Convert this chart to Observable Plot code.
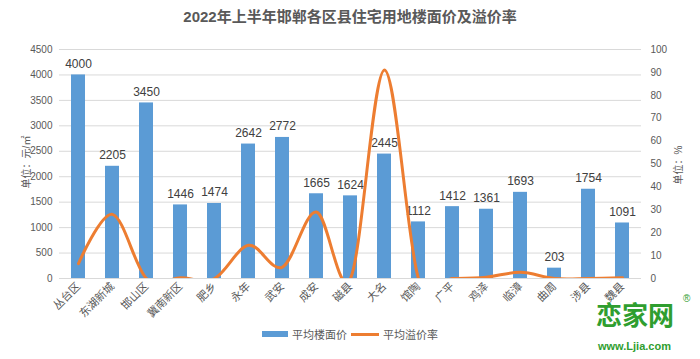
<!DOCTYPE html>
<html>
<head>
<meta charset="utf-8">
<script src="https://cdn.jsdelivr.net/npm/d3@7"></script>
<script src="https://cdn.jsdelivr.net/npm/@observablehq/plot@0.6"></script>
<style>
  html, body { margin: 0; padding: 0; background: #fff; }
  #wrap { position: relative; width: 700px; height: 359px; overflow: hidden;
          font-family: "Liberation Sans", "Noto Sans CJK SC", sans-serif; }
  #title { height: 35px; line-height: 34px; text-align: center; font-size: 15px; font-weight: bold;
           color: #595959; font-family: "Liberation Sans", "Noto Sans CJK SC", sans-serif; }
  .ytitle { position: absolute; font-size: 10px; color: #595959; white-space: nowrap;
            transform: translate(-50%, -50%) rotate(-90deg); }
  #legend { position: absolute; left: 0; width: 700px; top: 326px; display: flex; justify-content: center;
            align-items: center; font-size: 11px; color: #595959; }
  .sw { display: inline-block; margin-right: 4px; }
  .logo1 { position: absolute; left: 596px; top: 298px; color: #2f9e2f; font-size: 26px; font-weight: bold;
           line-height: 32px; font-family: "Noto Sans CJK SC", sans-serif; }
  .logo2 { position: absolute; left: 598px; top: 339px; color: #2f9e2f; font-size: 11px; font-weight: bold;
           line-height: 14px; font-family: "Liberation Sans", sans-serif; }
  .reg { position: absolute; left: 683px; top: 293px; color: #2f9e2f; font-size: 10px; line-height: 12px; }
</style>
</head>
<body>
<div id="wrap">
  <div id="title">2022年上半年邯郸各区县住宅用地楼面价及溢价率</div>
  <div id="chart"></div>
  <div class="ytitle" style="left:25px; top:162px;">单位：元/㎡</div>
  <div class="ytitle" style="left:677px; top:165px;">单位：%</div>
  <div id="legend">
    <span class="sw" style="width:26px;height:6px;background:#5b9bd5;"></span>
    <span style="margin-right:4px;">平均楼面价</span>
    <span class="sw" style="width:28px;height:3px;background:#ed7d31;"></span>
    <span>平均溢价率</span>
  </div>
  <div class="logo1">恋家网</div>
  <div class="reg">®</div>
  <div class="logo2">www.Ljia.com</div>
</div>
<script>
const categories = ["丛台区","东湖新城","邯山区","冀南新区","肥乡","永年","武安","成安","磁县","大名","馆陶","广平","鸡泽","临漳","曲周","涉县","魏县"];
const prices = [4000, 2205, 3450, 1446, 1474, 2642, 2772, 1665, 1624, 2445, 1112, 1412, 1361, 1693, 203, 1754, 1091];
const rates = [6.5, 28, 0, 0.3, 0, 14.5, 5, 29, 0, 91, 0, 0, 0.6, 2.7, 0, 0, 0.3];
const priceTicks = [0, 500, 1000, 1500, 2000, 2500, 3000, 3500, 4000, 4500];
const rateTicks = [0, 10, 20, 30, 40, 50, 60, 70, 80, 90, 100];
const priceMax = 4500, rateMax = 100;
const k = priceMax / rateMax;

const data = categories.map((c, i) => ({cat: c, price: prices[i], rate: rates[i]}));
const font = "'Liberation Sans', 'Noto Sans CJK SC', sans-serif";

const chart = Plot.plot({
  width: 700,
  height: 292,
  marginTop: 14,
  marginLeft: 59,
  marginRight: 59,
  marginBottom: 49,
  x: {domain: categories, paddingInner: 0.58, paddingOuter: 0.29, label: null},
  y: {domain: [0, priceMax], label: null},
  style: {fontFamily: font, fontSize: "10px", color: "#595959", background: "transparent"},
  marks: [
    Plot.ruleY(priceTicks, {stroke: "#d9d9d9", strokeWidth: 1}),
    Plot.barY(data, {x: "cat", y: "price", fill: "#5b9bd5"}),
    Plot.text(data, {x: "cat", y: "price", text: d => String(d.price), dy: -7, lineAnchor: "bottom",
                     fill: "#404040", fontSize: 12}),
    Plot.line(data, {x: "cat", y: d => d.rate * k, stroke: "#ed7d31", strokeWidth: 3,
                     curve: "cardinal", tension: 0, clip: true}),
    Plot.axisY(priceTicks, {anchor: "left", tickSize: 0, tickPadding: 7, label: null, fill: "#595959",
                     fontSize: 10, tickFormat: d => String(d)}),
    Plot.axisY(rateTicks.map(r => r * k), {anchor: "right", tickSize: 0, tickPadding: 9, label: null,
                     fontSize: 10, tickFormat: d => String(Math.round(d / k)), fill: "#595959"}),
    Plot.axisX({tickRotate: -45, tickSize: 0, tickPadding: 6, label: null, fontSize: 11,
                fontFamily: "'Noto Sans CJK SC', sans-serif", fill: "#595959"})
  ]
});
document.getElementById("chart").appendChild(chart);
</script>
</body>
</html>
